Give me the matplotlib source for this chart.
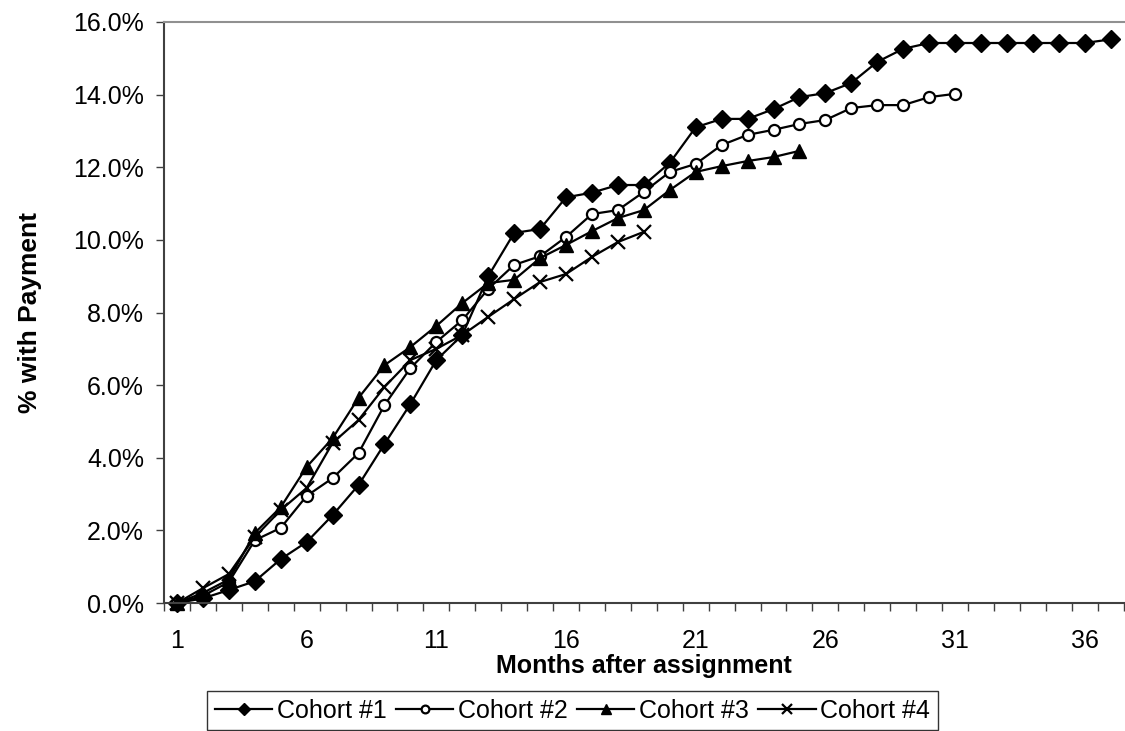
import numpy as np
import matplotlib
matplotlib.use('Agg')
import matplotlib.pyplot as plt

plt.rcParams['font.family'] = ['Liberation Sans', 'DejaVu Sans']

# % with payment by month after assignment
cohort1 = [0.0, 0.13, 0.36, 0.6, 1.21, 1.68, 2.42, 3.25, 4.38, 5.48, 6.69, 7.38, 9.0,
           10.19, 10.3, 11.17, 11.3, 11.51, 11.51, 12.12, 13.1, 13.33, 13.33, 13.6,
           13.93, 14.04, 14.32, 14.9, 15.26, 15.42, 15.42, 15.42, 15.42, 15.42, 15.42,
           15.42, 15.52]
cohort2 = [0.0, 0.2, 0.58, 1.73, 2.07, 2.95, 3.44, 4.13, 5.45, 6.47, 7.19, 7.79, 8.65,
           9.31, 9.55, 10.08, 10.71, 10.82, 11.32, 11.87, 12.09, 12.61, 12.89, 13.03,
           13.19, 13.3, 13.63, 13.71, 13.71, 13.93, 14.02]
cohort3 = [0.0, 0.28, 0.65, 1.93, 2.64, 3.75, 4.54, 5.65, 6.55, 7.05, 7.63, 8.26, 8.81,
           8.9, 9.5, 9.86, 10.24, 10.6, 10.82, 11.37, 11.87, 12.03, 12.17, 12.28, 12.45]
cohort4 = [0.0, 0.41, 0.8, 1.82, 2.56, 3.17, 4.41, 5.04, 5.95, 6.69, 7.0, 7.38, 7.88,
           8.37, 8.84, 9.06, 9.53, 9.94, 10.22]

names = ['Cohort #1', 'Cohort #2', 'Cohort #3', 'Cohort #4']
series = [cohort1, cohort2, cohort3, cohort4]
tick_months = [1, 6, 11, 16, 21, 26, 31, 36]
yticks = [0, 2, 4, 6, 8, 10, 12, 14, 16]

fig = plt.figure(figsize=(11.25, 7.31), dpi=100)
ax = fig.add_axes([0.1458, 0.175, 0.853, 0.795])

styles = [
    dict(marker='D', ms=9, mfc='black', mec='black'),
    dict(marker='o', ms=8, mfc='white', mec='black', mew=1.6),
    dict(marker='^', ms=10, mfc='black', mec='black'),
    dict(marker='x', ms=10, mec='black', mew=1.6),
]
for name, vals, st in zip(names, series, styles):
    months = np.arange(1, len(vals) + 1)
    ax.plot(months, vals, color='black', lw=1.6, label=name, clip_on=False, **st)

ax.set_xlim(0.5, 37.5)
ax.set_ylim(0, 16)

# ticks between categories, labels on categories
ax.set_xticks(np.arange(0.5, 38, 1))
ax.set_xticklabels([])
ax.set_xticks(tick_months, minor=True)
ax.set_xticklabels([str(m) for m in tick_months], minor=True, fontsize=18)
ax.tick_params(axis='x', which='major', direction='out', length=5.5, width=1, color='#404040')
ax.tick_params(axis='x', which='minor', length=0, pad=19)

ax.set_yticks(yticks)
ax.set_yticklabels(['%.1f%%' % v for v in yticks], fontsize=18)
ax.tick_params(axis='y', direction='out', length=5.5, width=1, color='#404040', pad=9)

ax.spines['left'].set_color('#404040')
ax.spines['bottom'].set_color('#404040')
ax.spines['left'].set_linewidth(1.5)
ax.spines['bottom'].set_linewidth(1.5)
ax.spines['top'].set_color('#909090')
ax.spines['top'].set_linewidth(1.5)
ax.spines['right'].set_visible(False)

ax.set_xlabel('Months after assignment', fontsize=18, fontweight='bold', va='top')
ax.xaxis.set_label_coords(0.5, -0.088)
ax.set_ylabel('% with Payment', fontsize=19, fontweight='bold', ha='center', va='center')
ax.yaxis.set_label_coords(-0.1396, 0.5)

leg = fig.legend(loc='upper center', bbox_to_anchor=(0.509, 0.0547), ncol=4,
                 fontsize=18, frameon=True, fancybox=False, edgecolor='black',
                 handlelength=2.3, handletextpad=0.2, columnspacing=0.35,
                 borderpad=0.3, borderaxespad=0, markerscale=0.7)
leg.get_frame().set_linewidth(1.0)

fig.savefig('out.png', dpi=100)
